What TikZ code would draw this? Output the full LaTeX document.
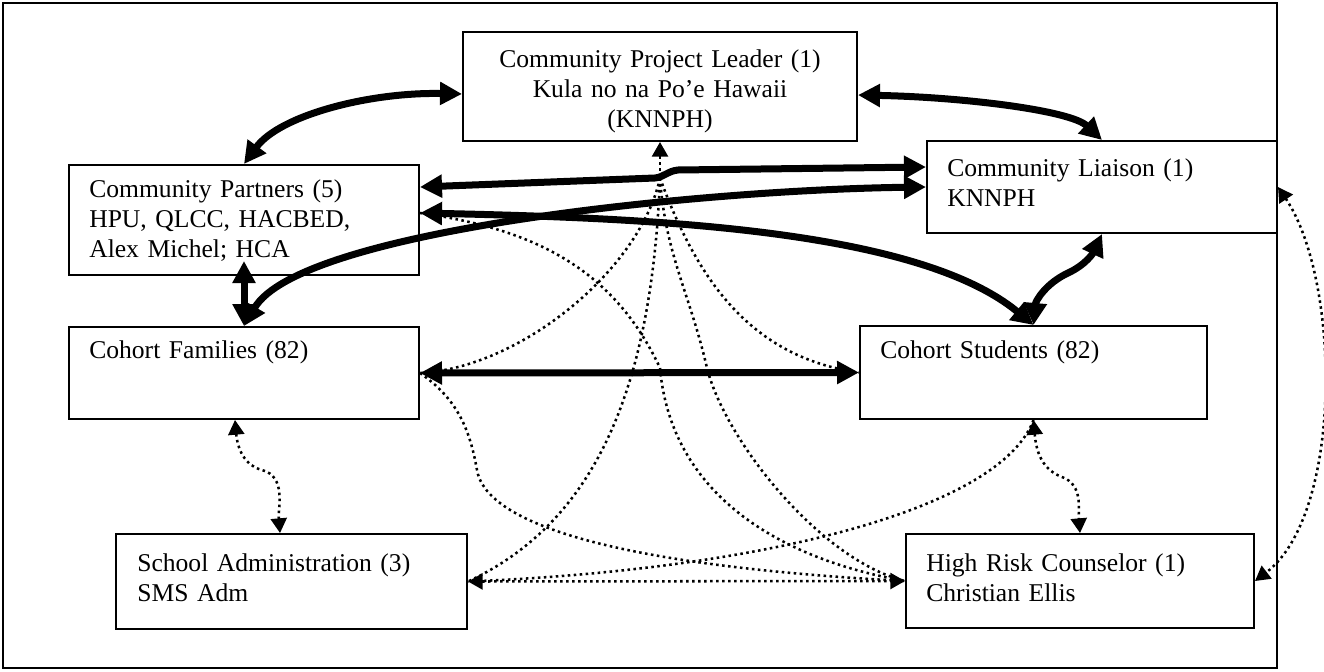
\documentclass[tikz,border=0pt]{standalone}
\usepackage{fontspec}
\setmainfont{Liberation Serif}
\usetikzlibrary{arrows.meta,fit}
\begin{document}
\begin{tikzpicture}[x=0.75pt,y=0.75pt,
  box/.style={draw,line width=1.5pt,inner sep=0pt},
  txt/.style={inner sep=0pt,font=\fontsize{19.2pt}{22.5pt}\selectfont,text width=300pt,align=left},
  thk/.style={line width=5.25pt,>={Triangle[length=16.5pt,width=16.5pt]},<->},
  dt/.style={line width=1.9pt,dash pattern=on 1.9pt off 2.6pt,>={Triangle[length=11pt,width=12pt]}},
]
\useasboundingbox (0,0) rectangle (1324,-671);
% frame and boxes
\node[box,fit={(3,-3) (1277,-668)}] (frame) {};
\node[box,fit={(463,-32) (857,-141)}] (leader) {};
\node[box,fit={(69,-165) (419,-275)}] (partners) {};
\node[box,fit={(927,-141) (1277,-233)}] (liaison) {};
\node[box,fit={(69,-327) (419,-419)}] (families) {};
\node[box,fit={(860,-326) (1207,-419)}] (students) {};
\node[box,fit={(116,-534) (467,-629)}] (school) {};
\node[box,fit={(906,-534) (1254,-628)}] (hr) {};
% texts
\node[txt,text width=295pt,align=center,anchor=base] (leaderT) at (660,-67) {Community Project Leader (1)\\Kula no na Po’e Hawaii\\(KNNPH)};
\node[txt,anchor=base west] (partnersT) at (89,-197) {Community Partners (5)\\HPU, QLCC, HACBED,\\Alex Michel; HCA};
\node[txt,anchor=base west] (liaisonT) at (947,-176) {Community Liaison (1)\\KNNPH};
\node[txt,anchor=base west] (familiesT) at (89,-358) {Cohort Families (82)};
\node[txt,anchor=base west] (studentsT) at (880,-358) {Cohort Students (82)};
\node[txt,anchor=base west] (schoolT) at (137,-571) {School Administration (3)\\SMS Adm};
\node[txt,anchor=base west] (hrT) at (926,-571) {High Risk Counselor (1)\\Christian Ellis};
% dotted connectors
\coordinate (fan) at (660,-178);
\draw[dt,<-] (leader.south) -- (fan);
\draw[dt] (fan) .. controls (640,-270) and (520,-368) .. (families.east);
\draw[dt] (fan) .. controls (652,-380) and (600,-520) .. (school.east);
\draw[dt] (fan) to[out=-86,in=103] (707,-368) .. controls (725,-440) and (820,-560) .. (hr.west);
\draw[dt] (fan) to[out=-70,in=172] (students.west);
\draw[dt] ([yshift=5.25pt]partners.east) to[out=-8,in=115] (660,-368) to[out=-85,in=170] (hr.west);
\draw[dt] (families.east) to[out=-35,in=100] (477,-470) .. controls (485,-520) and (600,-565) .. (hr.west);
\draw[dt] (students.south) .. controls (1000,-510) and (760,-570) .. (school.east);
\draw[dt,<->] (students.south) to[out=-85,in=160] (1062,-477) to[out=-20,in=95] (hr.north);
\draw[dt,<->] ([xshift=-6.75pt]families.south) to[out=-85,in=165] (262,-470) to[out=-15,in=95] ([xshift=-8.6pt]school.north);
\draw[dt,<->] (school.east) -- (hr.west);
\draw[dt,<->] (liaison.east) .. controls (1341,-281) and (1343,-514) .. (hr.east);
% thick connectors
\draw[thk] ([yshift=-5.6pt]leader.west) .. controls (370,-92) and (280,-115) .. (partners.north);
\draw[thk] ([yshift=-6.4pt]leader.east) .. controls (960,-97) and (1070,-110) .. (liaison.north);
\draw[thk] ([yshift=24.75pt]partners.east) -- (655,-178) .. controls (664,-177) and (668,-171) .. (678,-170) -- ([yshift=15pt]liaison.west);
\draw[thk] (liaison.west) .. controls (700,-190) and (300,-230) .. (families.north);
\draw[thk] ([yshift=5.25pt]partners.east) .. controls (650,-218) and (917,-229) .. (students.north);
\draw[thk] (students.north) to[out=85,in=205] (1068,-273) to[out=25,in=245] (liaison.south);
\draw[thk] ([yshift=11.25pt]partners.south) -- (families.north);
\draw[thk] (families.east) -- (students.west);
\end{tikzpicture}
\end{document}
